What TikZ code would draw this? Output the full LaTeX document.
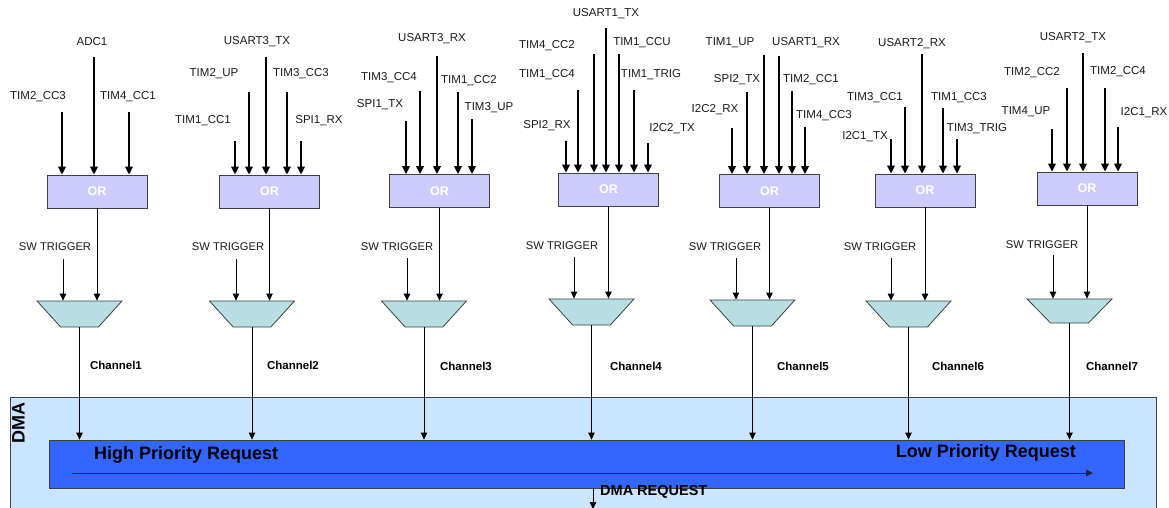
\documentclass[tikz,border=0pt]{standalone}
\usepackage{fontspec}
\setmainfont{Liberation Sans}
\usetikzlibrary{arrows.meta,shapes.geometric}
\definecolor{orfill}{RGB}{204,204,255}
\definecolor{muxfill}{RGB}{183,222,226}
\definecolor{dmafill}{RGB}{204,229,255}
\definecolor{barfill}{RGB}{51,102,255}
\definecolor{edge}{RGB}{64,64,64}
\definecolor{txt}{RGB}{26,26,26}
\tikzset{
  lbl/.style={inner sep=0pt, text=txt, font=\fontsize{11.5}{13}\selectfont},
  swlbl/.style={inner sep=0pt, text=txt, font=\fontsize{11.2}{13}\selectfont},
  chlbl/.style={inner sep=0pt, text=black, font=\bfseries\fontsize{11.5}{13}\selectfont},
  orbox/.style={draw=edge, line width=0.8pt, fill=orfill, minimum width=100pt, minimum height=33pt, inner sep=0pt, text=white, font=\bfseries\fontsize{12.5}{14}\selectfont},
  mux/.style={trapezium, trapezium angle=58, trapezium stretches=true, shape border rotate=180, draw=edge, line width=0.8pt, fill=muxfill, minimum width=85pt, minimum height=26pt, inner sep=3pt},
  inarrow/.style={line width=1.8pt, -{Triangle[length=8pt,width=7.5pt]}},
  thinarrow/.style={line width=0.8pt, -{Triangle[length=7pt,width=6.5pt]}},
  thinline/.style={line width=0.8pt}
}
\newcommand{\InSig}[7]{%
  \coordinate (#1) at (#3,#4);
  \node[lbl] (#1l) at (#5,#6) {#2};
  \draw[inarrow] (#1) -- (#1 |- #7.north);
}
\begin{document}
\begin{tikzpicture}[x=1pt,y=-1pt]
\useasboundingbox (0,0) rectangle (1169,508);

% DMA block
\node[draw=edge, line width=0.8pt, fill=dmafill, anchor=north west, minimum width=1146pt, minimum height=130pt, inner sep=0pt] (dma) at (10,397) {};
\node[rotate=90, inner sep=0pt, text=black, font=\bfseries\fontsize{18}{20}\selectfont] (dmalbl) at (18.5,423) {DMA};
\node[draw=edge, line width=0.8pt, fill=barfill, minimum width=1075pt, minimum height=48pt, inner sep=0pt] (bar) at (586.5,464) {};
\node[anchor=west, inner sep=0pt, text=black, font=\bfseries\fontsize{18}{20}\selectfont] (hpr) at (94,455) {High Priority Request};
\node[anchor=east, inner sep=0pt, text=black, font=\bfseries\fontsize{18}{20}\selectfont] (lpr) at (1076,453) {Low Priority Request};
\coordinate (pstart) at (72,473);
\coordinate (pend) at (1093,473);
\draw[thinarrow, draw=black!85] (pstart) -- (pend);
\coordinate (dmareq) at (593,509);
\draw[thinarrow] (bar.south -| dmareq) -- (dmareq);
\node[anchor=west, inner sep=0pt, text=black, font=\bfseries\fontsize{14.5}{16}\selectfont] (dmareql) at (600,492) {DMA REQUEST};

% OR boxes
\node[orbox] (or1) at (97,191.5) {OR};
\node[orbox] (or2) at (269.5,191.5) {OR};
\node[orbox] (or3) at (439.5,191) {OR};
\node[orbox] (or4) at (608.5,189.5) {OR};
\node[orbox] (or5) at (769.5,191) {OR};
\node[orbox] (or6) at (925,190.5) {OR};
\node[orbox] (or7) at (1087,188.5) {OR};

% muxes
\node[mux] (mux1) at (79.5,314) {};
\node[mux] (mux2) at (252,314) {};
\node[mux] (mux3) at (424,314) {};
\node[mux] (mux4) at (591.5,312) {};
\node[mux] (mux5) at (752.5,313) {};
\node[mux] (mux6) at (908.5,314) {};
\node[mux, minimum height=24pt] (mux7) at (1069.5,311) {};

% inputs column 1
\InSig{a1}{TIM2\_CC3}{62}{112}{38}{97}{or1}
\InSig{a2}{ADC1}{94}{57}{92}{42}{or1}
\InSig{a3}{TIM4\_CC1}{129}{112}{128}{97}{or1}
% column 2
\InSig{b1}{TIM1\_CC1}{235}{141}{203}{121}{or2}
\InSig{b2}{TIM2\_UP}{249}{92}{214}{74}{or2}
\InSig{b3}{USART3\_TX}{266}{57}{257}{42}{or2}
\InSig{b4}{TIM3\_CC3}{287}{92}{301}{74}{or2}
\InSig{b5}{SPI1\_RX}{301}{141}{319}{121}{or2}
% column 3
\InSig{c1}{SPI1\_TX}{406}{121}{380}{105}{or3}
\InSig{c2}{TIM3\_CC4}{420}{91}{389}{78}{or3}
\InSig{c3}{USART3\_RX}{437}{56}{432}{39}{or3}
\InSig{c4}{TIM1\_CC2}{458}{92}{469}{81}{or3}
\InSig{c5}{TIM3\_UP}{472}{119}{489}{108}{or3}
% column 4
\InSig{d1}{SPI2\_RX}{566}{141}{547}{126}{or4}
\InSig{d2}{TIM1\_CC4}{578}{90}{547}{75}{or4}
\InSig{d3}{TIM4\_CC2}{594}{54}{547}{46}{or4}
\InSig{d4}{USART1\_TX}{606}{28}{606}{14}{or4}
\InSig{d5}{TIM1\_CCU}{619}{54}{642}{43}{or4}
\InSig{d6}{TIM1\_TRIG}{634}{90}{651}{75}{or4}
\InSig{d7}{I2C2\_TX}{648}{143}{672}{129}{or4}
% column 5
\InSig{e1}{I2C2\_RX}{732}{128}{715}{110}{or5}
\InSig{e2}{SPI2\_TX}{747}{92}{737}{80}{or5}
\InSig{e3}{TIM1\_UP}{764}{55}{730}{43}{or5}
\InSig{e4}{USART1\_RX}{779}{56}{806}{43}{or5}
\InSig{e5}{TIM2\_CC1}{792}{91}{811}{80}{or5}
\InSig{e6}{TIM4\_CC3}{805}{127}{824}{116}{or5}
% column 6
\InSig{f1}{I2C1\_TX}{891}{139}{865}{137}{or6}
\InSig{f2}{TIM3\_CC1}{905}{107}{875}{98}{or6}
\InSig{f3}{USART2\_RX}{922}{54}{912}{44}{or6}
\InSig{f4}{TIM1\_CC3}{943}{108}{959}{98}{or6}
\InSig{f5}{TIM3\_TRIG}{957}{139}{977}{129}{or6}
% column 7
\InSig{g1}{TIM4\_UP}{1052}{129}{1026}{112}{or7}
\InSig{g2}{TIM2\_CC2}{1067}{88}{1032}{73}{or7}
\InSig{g3}{USART2\_TX}{1083}{53}{1073}{38}{or7}
\InSig{g4}{TIM2\_CC4}{1105}{88}{1118}{72}{or7}
\InSig{g5}{I2C1\_RX}{1118}{127}{1144}{113}{or7}

% SW triggers, OR -> mux, mux -> DMA
\foreach \i/\sx/\sy/\lx/\ly/\cx/\cy in {1/63/259/55/247/116/365, 2/236/259/228/247/293/365, 3/407/258/397/247/466/366, 4/574/257/562/246/636/366, 5/736/258/725/247/803/366, 6/891/258/880/247/958/366, 7/1053/255/1042/245/1112/366}{
  \node[swlbl] (swl\i) at (\lx,\ly) {SW TRIGGER};
  \coordinate (sw\i) at (\sx,\sy);
  \draw[thinarrow] (sw\i) -- (sw\i |- mux\i.north);
  \draw[thinarrow] (or\i.south) -- (or\i.south |- mux\i.north);
  \draw[thinarrow] (mux\i.south) -- (mux\i.south |- bar.north);
  \node[chlbl] (ch\i) at (\cx,\cy) {Channel\i};
}
\end{tikzpicture}
\end{document}
